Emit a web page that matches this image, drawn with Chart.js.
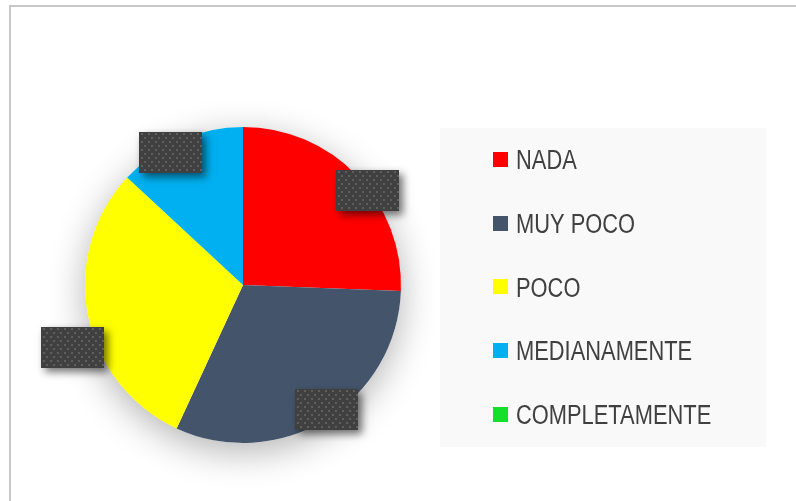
<!DOCTYPE html>
<html><head><meta charset="utf-8">
<script src="https://cdn.jsdelivr.net/npm/chart.js@4.4.0/dist/chart.umd.min.js"></script>
<style>html,body{margin:0;padding:0;background:#fff;overflow:hidden}#wrap{width:796px;height:501px;position:relative}</style>
</head><body><div id="wrap"><canvas id="c" width="796" height="501"></canvas></div>
<script>
const categories = ['NADA', 'MUY POCO', 'POCO', 'MEDIANAMENTE', 'COMPLETAMENTE'];
const values = [25.6, 31.3, 30.0, 13.1, 0];
const colors = ['#ff0000', '#44546a', '#ffff00', '#00b0f0', '#14e02c'];

// label box placement style: [angle offset in degrees, radial factor]
const labelStyle = [[6.9, 0.99], [-2.2, 0.95], [-8.8, 1.15], [-5.2, 0.955], [0, 1]];

function makePattern(ctx) {
  const p = document.createElement('canvas');
  p.width = 14; p.height = 8;
  const g = p.getContext('2d');
  g.fillStyle = '#404040'; g.fillRect(0, 0, 14, 8);
  g.fillStyle = '#5e5e5e';
  g.fillRect(2, 1, 2, 2); g.fillRect(9, 1, 2, 2);
  g.fillRect(5, 5, 2, 2); g.fillRect(12, 5, 2, 2);
  return ctx.createPattern(p, 'repeat');
}

const framePlugin = {
  id: 'frame',
  beforeDraw(chart) {
    const ctx = chart.ctx;
    ctx.save();
    ctx.fillStyle = '#fff';
    ctx.fillRect(0, 0, chart.width, chart.height);
    ctx.strokeStyle = '#c8c8c8';
    ctx.lineWidth = 2;
    ctx.beginPath();
    ctx.moveTo(10, 510); ctx.lineTo(10, 6); ctx.lineTo(810, 6);
    ctx.stroke();
    ctx.fillStyle = '#f9f9f9';
    ctx.fillRect(440, 128, 326, 319);
    ctx.restore();
  },
  beforeDatasetsDraw(chart) {
    const arcs = chart.getDatasetMeta(0).data;
    if (!arcs.length) return;
    const a = arcs[0];
    const ctx = chart.ctx;
    ctx.save();
    ctx.shadowColor = 'rgba(0,0,0,0.3)';
    ctx.shadowBlur = 36;
    ctx.shadowOffsetY = 9;
    ctx.fillStyle = '#ffffff';
    ctx.beginPath();
    ctx.arc(a.x, a.y, a.outerRadius, 0, Math.PI * 2);
    ctx.fill();
    ctx.restore();
  },
  afterDatasetsDraw(chart) {
    const ctx = chart.ctx;
    const arcs = chart.getDatasetMeta(0).data;
    const pat = makePattern(ctx);
    arcs.forEach((a, i) => {
      if (!values[i]) return;
      const st = labelStyle[i];
      const mid = (a.startAngle + a.endAngle) / 2 + st[0] * Math.PI / 180;
      const r = a.outerRadius * st[1];
      const cx = a.x + Math.cos(mid) * r;
      const cy = a.y + Math.sin(mid) * r;
      const w = 63, h = 41;
      ctx.save();
      ctx.shadowColor = 'rgba(0,0,0,0.55)';
      ctx.shadowBlur = 8;
      ctx.shadowOffsetX = 4;
      ctx.shadowOffsetY = 4;
      ctx.fillStyle = '#404040';
      ctx.fillRect(Math.round(cx - w / 2), Math.round(cy - h / 2), w, h);
      ctx.restore();
      ctx.save();
      ctx.translate(Math.round(cx - w / 2), Math.round(cy - h / 2));
      ctx.fillStyle = pat;
      ctx.fillRect(0, 0, w, h);
      ctx.restore();
    });
  },
  afterDraw(chart) {
    const ctx = chart.ctx;
    ctx.save();
    ctx.font = "27px 'Liberation Sans', Arial, sans-serif";
    ctx.textBaseline = 'alphabetic';
    chart.data.labels.forEach((lab, i) => {
      const cy = 159.5 + i * 63.7;
      ctx.fillStyle = chart.data.datasets[0].backgroundColor[i];
      ctx.fillRect(493, Math.round(cy - 7.5), 15, 15);
      ctx.save();
      ctx.translate(516, cy + 9.7);
      ctx.scale(0.81, 1);
      ctx.fillStyle = '#404040';
      ctx.fillText(lab, 0, 0);
      ctx.restore();
    });
    ctx.restore();
  }
};

new Chart(document.getElementById('c'), {
  type: 'pie',
  data: {
    labels: categories,
    datasets: [{ data: values, backgroundColor: colors, borderWidth: 0 }]
  },
  options: {
    responsive: false,
    animation: false,
    layout: { padding: { left: 85, right: 395, top: 127, bottom: 58 } },
    plugins: { legend: { display: false }, tooltip: { enabled: false } }
  },
  plugins: [framePlugin]
});
</script>
</body></html>
